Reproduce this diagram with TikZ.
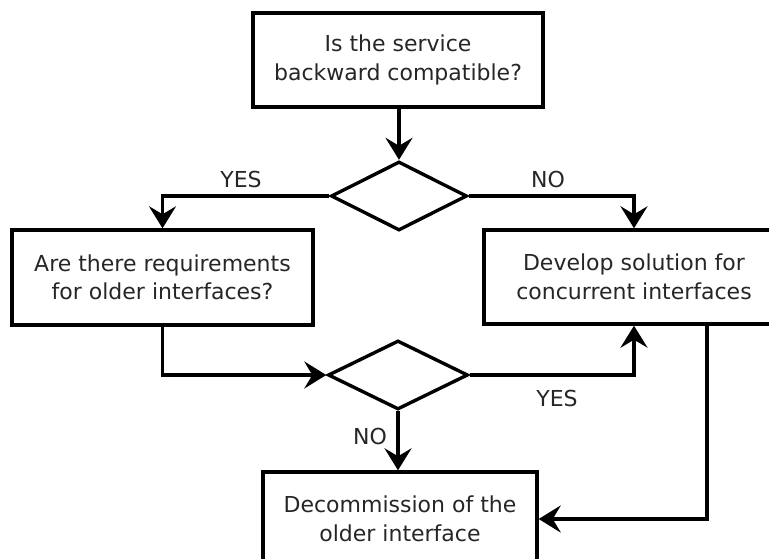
\documentclass[tikz,border=0pt]{standalone}
\usepackage{fontspec}
\setmainfont{DejaVu Sans}
\usetikzlibrary{shapes.geometric,arrows.meta}
\begin{document}
\begin{tikzpicture}[x=1pt,y=-1pt,
  every node/.style={font=\fontsize{22}{28.5}\selectfont,text=black!85},
  box/.style={draw,line width=3.4pt,align=center,inner sep=0pt},
  choice/.style={draw,diamond,line width=3.4pt,inner sep=0pt},
  flow/.style={line width=3.4pt,-{Stealth[length=22pt,width=27pt,inset=8pt]}},
  lbl/.style={inner sep=0pt}]
\useasboundingbox (0,0) rectangle (769,559);
\clip (0,0) rectangle (769,559);

% process boxes
\node[box,minimum width=290pt,minimum height=94pt] (q1) at (398,60)
  {Is the service\\backward compatible?};
\node[box,minimum width=301pt,minimum height=95pt] (q2) at (162.5,277.5)
  {Are there requirements\\for older interfaces?};
\node[box,minimum width=300pt,minimum height=94pt] (dev) at (634,277)
  {Develop solution for\\concurrent interfaces};
\node[box,minimum width=274pt,minimum height=94pt] (dec) at (400,519)
  {Decommission of the\\older interface};

% decisions
\node[choice,minimum width=136pt,minimum height=69pt] (d1) at (399,196) {};
\node[choice,minimum width=140pt,minimum height=69pt] (d2) at (398,375) {};

% connectors
\draw[flow] (q1.south -| d1.north) -- (d1.north);
\draw[flow] (d1.west) -| (q2.north);
\draw[flow] (d1.east) -| (dev.north);
\draw[flow] (q2.south) |- (d2.west);
\draw[flow] (d2.east) -| (dev.south);
\draw[flow] (d2.south) -- (d2.south |- dec.north);
\coordinate (back) at (707,324);
\draw[flow] (back) |- (dec.east);

% branch labels
\node[lbl] (yes1) at (241,179) {YES};
\node[lbl] (no1) at (548,179) {NO};
\node[lbl] (yes2) at (557,398) {YES};
\node[lbl] (no2) at (370,436) {NO};
\end{tikzpicture}
\end{document}
